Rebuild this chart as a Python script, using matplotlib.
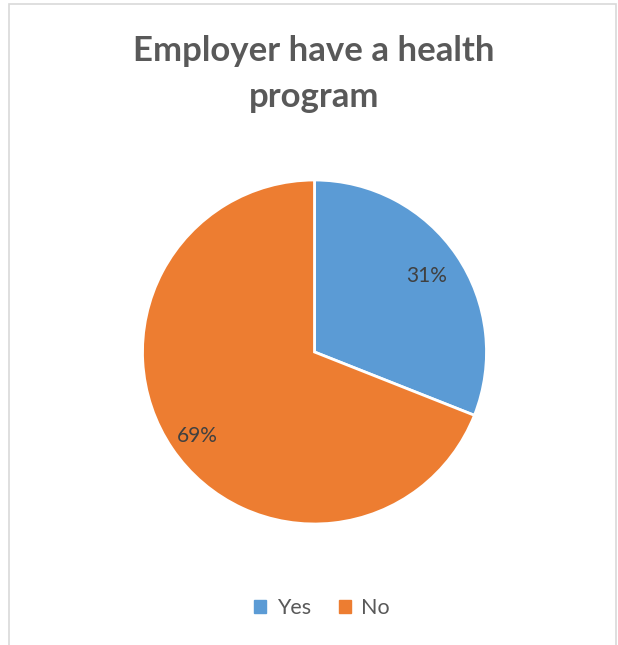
import matplotlib
matplotlib.use("Agg")
import matplotlib.pyplot as plt
from matplotlib.patches import Rectangle

categories = ["Yes", "No"]
shares = [31, 69]
colors = ["#5B9BD5", "#ED7D31"]
title = "Employer have a health\nprogram"

W, H = 618, 645
fig = plt.figure(figsize=(W / 100, H / 100), dpi=100)
fig.patch.set_facecolor("white")

# chart-area border
fig.add_artist(Rectangle((9 / W, -0.01), (616 - 9) / W, (H - 4) / H + 0.01,
                         transform=fig.transFigure, fill=False,
                         edgecolor="#D9D9D9", linewidth=1.2))

cx, cy, r = 314.5, 352, 172
ax = fig.add_axes([(cx - r) / W, (H - cy - r) / H, 2 * r / W, 2 * r / H])
wedges, texts, autotexts = ax.pie(
    shares, colors=colors, startangle=90, counterclock=False,
    autopct=lambda p: f"{p:.0f}%", pctdistance=0.79,
    wedgeprops=dict(edgecolor="white", linewidth=2),
    textprops=dict(color="#404040", fontsize=15, family="Lato"),
)
# best-fit style placement for the larger slice's label
x, y = autotexts[1].get_position()
autotexts[1].set_position((x - 0.03, y - 0.045))
ax.set_xlim(-1, 1)
ax.set_ylim(-1, 1)
ax.set_aspect("equal")
ax.axis("off")

fig.text(314 / W, 1 - 74 / H, title, ha="center", va="center",
         fontsize=25, fontweight="bold", color="#595959", family="Lato",
         linespacing=1.55)

handles = [Rectangle((0, 0), 1, 1, color=c) for c in colors]
fig.legend(handles, categories, loc="center", bbox_to_anchor=(322 / W, 1 - 608 / H),
           ncol=2, frameon=False, handlelength=0.55, handleheight=0.55,
           handletextpad=0.5, columnspacing=1.3,
           prop=dict(family="Lato", size=15.5), labelcolor="#595959")

fig.savefig("out.png", dpi=100, facecolor="white")
